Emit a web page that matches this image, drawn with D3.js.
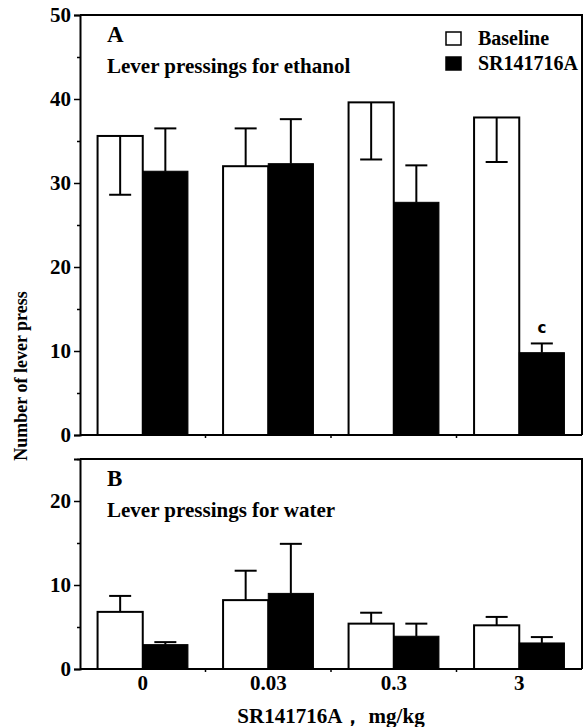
<!DOCTYPE html>
<html>
<head>
<meta charset="utf-8">
<script src="https://d3js.org/d3.v7.min.js"></script>
<style>
  body { margin: 0; background: #fff; }
  svg text { font-family: "Liberation Serif", "Times New Roman", serif; font-weight: bold; fill: #000; }
</style>
</head>
<body>
<svg id="chart" width="584" height="727"></svg>
<script>
// doses of SR141716A (mg/kg)
const doses = ["0", "0.03", "0.3", "3"];

// A: lever pressings for ethanol
const ethBase = [35.6, 32.0, 39.6, 37.8];
const ethBaseErr = [7.0, 4.5, 6.8, 5.3];
const ethBaseErrDir = [-1, 1, -1, -1];   // -1 = error bar drawn down into the bar
const ethSR = [31.4, 32.3, 27.7, 9.8];
const ethSRErr = [5.1, 5.3, 4.4, 1.1];
const ethSig = ["", "", "", "c"];

// B: lever pressings for water
const waterBase = [6.8, 8.2, 5.4, 5.2];
const waterBaseErr = [1.9, 3.5, 1.3, 1.0];
const waterSR = [2.9, 9.0, 3.9, 3.1];
const waterSRErr = [0.3, 5.9, 1.5, 0.7];

const ticksA = [0, 10, 20, 30, 40, 50];
const minorA = [5, 15, 25, 35, 45];
const ticksB = [0, 10, 20];
const minorB = [5, 15, 25];

const svg = d3.select("#chart");
const left = 80, right = 582;

const x = d3.scaleBand().domain(doses).range([left, right]);
const barW = x.bandwidth() * 0.36;

function panel(opts) {
    const y = d3.scaleLinear().domain(opts.domain).range([opts.bottom, opts.top]);
    const g = svg.append("g");

    const rows = doses.map((d, i) => ({
        d: d, base: opts.base[i], baseErr: opts.baseErr[i],
        baseDir: opts.baseDir ? opts.baseDir[i] : 1,
        sr: opts.sr[i], srErr: opts.srErr[i],
        sig: opts.sig ? opts.sig[i] : ""
    }));
    const cx = d => x(d) + x.bandwidth() / 2;

    function errBar(xc, v, e, dir) {
        const yEnd = y(v + dir * e);
        g.append("line").attr("x1", xc).attr("x2", xc)
            .attr("y1", y(v)).attr("y2", yEnd)
            .attr("stroke", "#000").attr("stroke-width", 2);
        g.append("line").attr("x1", xc - 11).attr("x2", xc + 11)
            .attr("y1", yEnd).attr("y2", yEnd)
            .attr("stroke", "#000").attr("stroke-width", 2);
    }

    rows.forEach(r => {
        const c = cx(r.d);
        g.append("rect")
            .attr("x", c - barW).attr("width", barW)
            .attr("y", y(r.base)).attr("height", y(0) - y(r.base))
            .attr("fill", "#fff").attr("stroke", "#000").attr("stroke-width", 2);
        g.append("rect")
            .attr("x", c).attr("width", barW)
            .attr("y", y(r.sr)).attr("height", y(0) - y(r.sr))
            .attr("fill", "#000").attr("stroke", "#000").attr("stroke-width", 1);
        errBar(c - barW / 2, r.base, r.baseErr, r.baseDir);
        errBar(c + barW / 2, r.sr, r.srErr, 1);
        if (r.sig) {
            g.append("text").attr("x", c + barW / 2).attr("y", y(r.sr + r.srErr) - 10)
                .attr("text-anchor", "middle")
                .style("font-family", "'DejaVu Sans', sans-serif")
                .style("font-size", "15px").text(r.sig);
        }
    });

    // frame: top and right borders
    g.append("path")
        .attr("d", `M${left},${opts.top}H${right}V${opts.bottom}`)
        .attr("fill", "none").attr("stroke", "#000").attr("stroke-width", 2);

    // bottom line with small ticks between groups
    g.append("line").attr("x1", left).attr("x2", right)
        .attr("y1", opts.bottom).attr("y2", opts.bottom)
        .attr("stroke", "#000").attr("stroke-width", 2);
    doses.slice(1).forEach(d => {
        g.append("line").attr("x1", x(d)).attr("x2", x(d))
            .attr("y1", opts.bottom).attr("y2", opts.bottom + 3)
            .attr("stroke", "#000").attr("stroke-width", 1.5);
    });

    // y axis, major and minor ticks
    const ax = g.append("g").attr("transform", `translate(${left},0)`)
        .call(d3.axisLeft(y).tickValues(opts.ticks).tickSize(6).tickPadding(3).tickFormat(d3.format("d")));
    ax.select(".domain").attr("stroke-width", 2);
    ax.selectAll(".tick line").attr("stroke-width", 1.5);
    ax.selectAll(".tick text").style("font-size", "21px")
        .style("font-family", "'Liberation Serif', serif").style("font-weight", "bold");
    const mx = g.append("g").attr("transform", `translate(${left},0)`)
        .call(d3.axisLeft(y).tickValues(opts.minor).tickSize(3).tickFormat(""));
    mx.select(".domain").remove();
    mx.selectAll(".tick line").attr("stroke-width", 1.5);

    // panel letter and caption
    g.append("text").attr("x", 107).attr("y", opts.top + 27)
        .style("font-size", "23px").text(opts.letter);
    g.append("text").attr("x", 107).attr("y", opts.top + 58)
        .style("font-size", "21px").text(opts.caption);
    return y;
}

panel({
    domain: [0, 50], top: 15, bottom: 435, ticks: ticksA, minor: minorA,
    base: ethBase, baseErr: ethBaseErr, baseDir: ethBaseErrDir,
    sr: ethSR, srErr: ethSRErr, sig: ethSig,
    letter: "A", caption: "Lever pressings for ethanol"
});
panel({
    domain: [0, 25], top: 459, bottom: 669, ticks: ticksB, minor: minorB,
    base: waterBase, baseErr: waterBaseErr,
    sr: waterSR, srErr: waterSRErr,
    letter: "B", caption: "Lever pressings for water"
});

// x tick labels under panel B
svg.append("g").selectAll("text").data(doses).join("text")
    .attr("x", d => x(d) + x.bandwidth() / 2).attr("y", 690)
    .attr("text-anchor", "middle").style("font-size", "21px").text(d => d);

// axis titles
svg.append("text").attr("x", (left + right) / 2).attr("y", 723)
    .attr("text-anchor", "middle").style("font-size", "21px").text("SR141716A\uFF0C mg/kg");
svg.append("text").attr("transform", "translate(27,376) rotate(-90)")
    .attr("text-anchor", "middle").style("font-size", "18px").text("Number of lever press");

// legend
const legend = [{ name: "Baseline", fill: "#fff" }, { name: "SR141716A", fill: "#000" }];
const lg = svg.append("g").attr("transform", "translate(446,32)");
legend.forEach((l, i) => {
    lg.append("rect").attr("x", 0).attr("y", i * 25).attr("width", 15).attr("height", 13)
        .attr("fill", l.fill).attr("stroke", "#000").attr("stroke-width", 1.5);
    lg.append("text").attr("x", 32).attr("y", i * 25 + 13)
        .style("font-size", "20px").text(l.name);
});
</script>
</body>
</html>
